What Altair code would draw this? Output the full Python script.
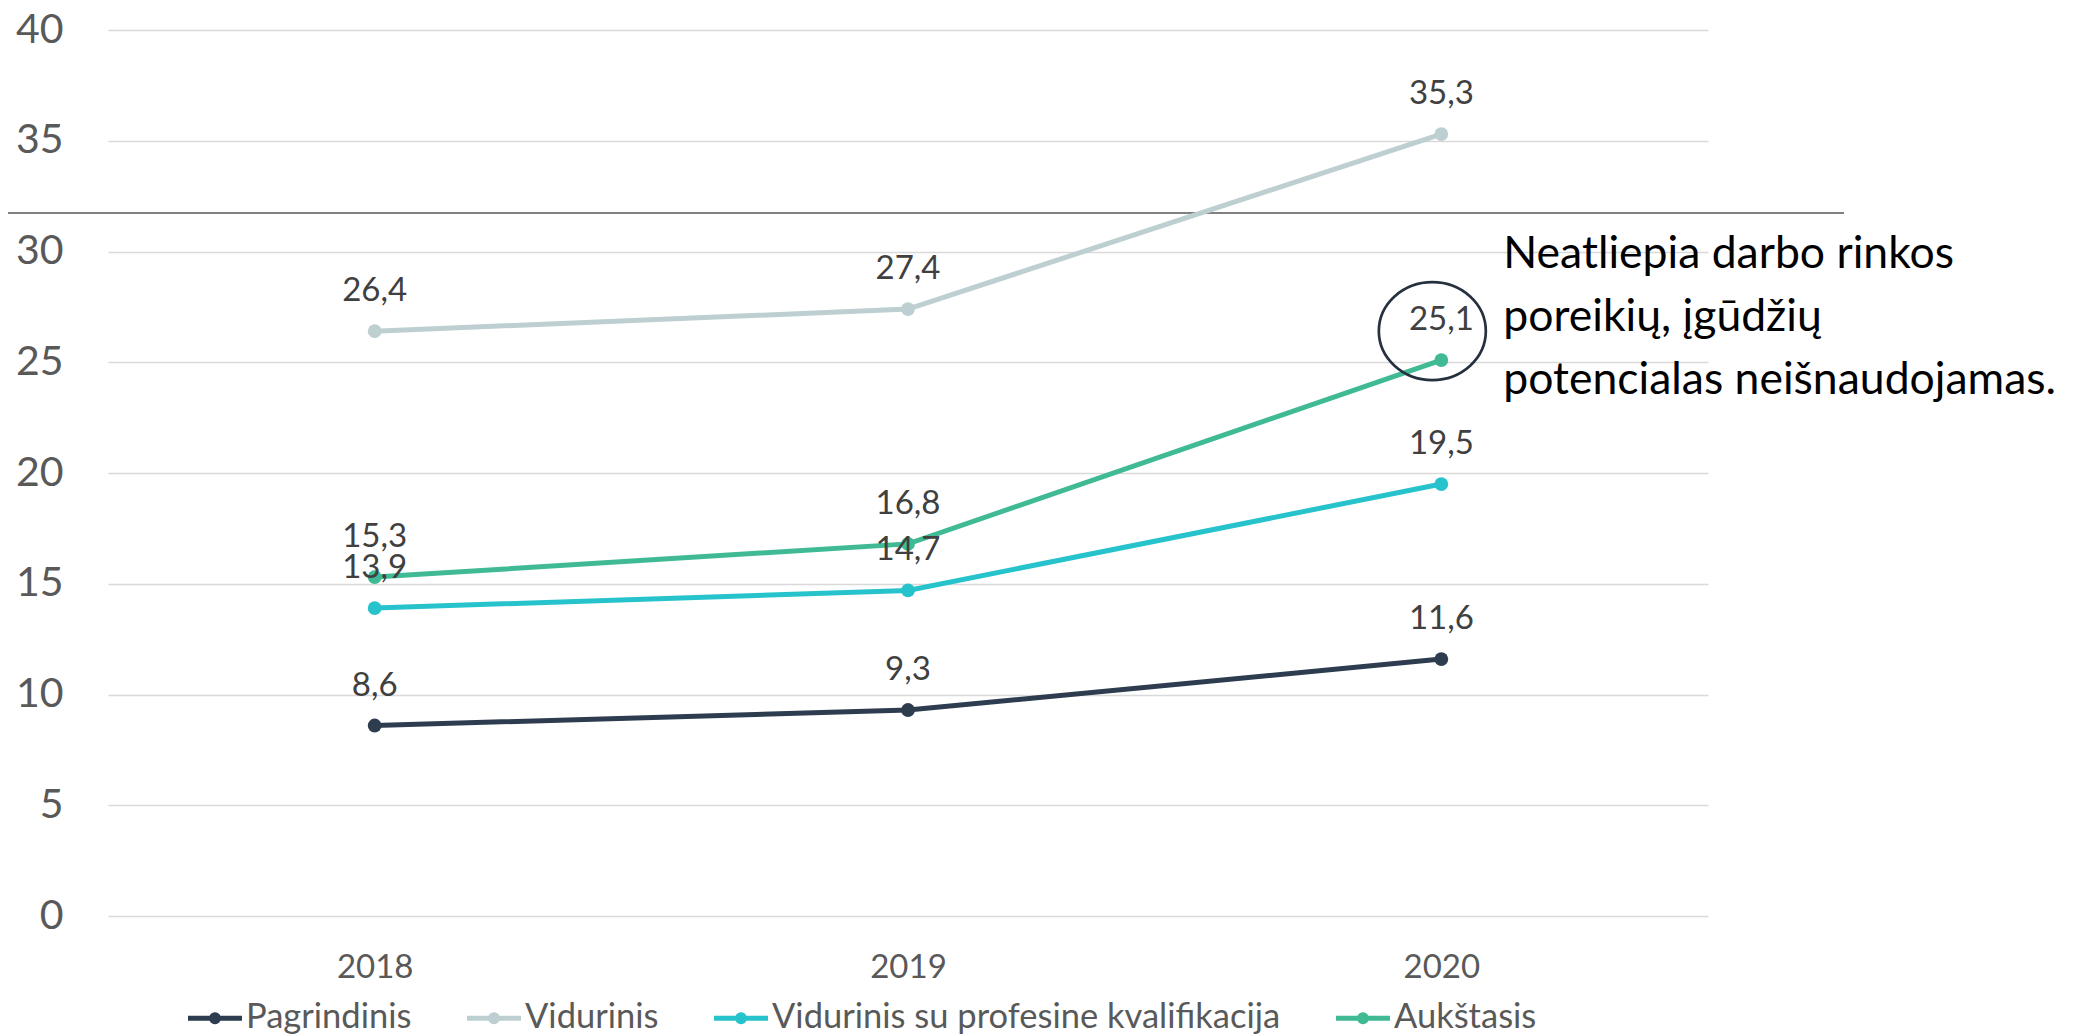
import altair as alt
import pandas as pd

# ---------------- data ----------------
years = ["2018", "2019", "2020"]
series_names = ["Pagrindinis", "Vidurinis", "Vidurinis su profesine kvalifikacija", "Aukštasis"]
pagrindinis = [8.6, 9.3, 11.6]
vidurinis = [26.4, 27.4, 35.3]
vidurinis_prof = [13.9, 14.7, 19.5]
aukstasis = [15.3, 16.8, 25.1]
series_colors = ["#2E3C4F", "#BDCFD0", "#27C3CC", "#3FBA94"]
y_ticks = [0, 5, 10, 15, 20, 25, 30, 35, 40]
annotation_lines = ["Neatliepia darbo rinkos", "poreikių, įgūdžių", "potencialas neišnaudojamas."]

rows = []
for i, (name, vals) in enumerate(zip(series_names, [pagrindinis, vidurinis, vidurinis_prof, aukstasis])):
    for yr, v in zip(years, vals):
        rows.append({"year": yr, "series": name, "order": i, "value": v,
                     "label": f"{v:.1f}".replace(".", ",")})
df = pd.DataFrame(rows)

anno_df = pd.DataFrame({"year": [years[-1]], "value": [aukstasis[-1]]})
sep_df = pd.DataFrame({"k": [0]})

FONT = "Lato"

x_enc = alt.X("year:N", sort=years,
              scale=alt.Scale(type="point", padding=0.5),
              axis=alt.Axis(title=None, labelAngle=0, ticks=False, domain=False, grid=False,
                            labelFontSize=33, labelColor="#595959", labelFont=FONT,
                            labelPadding=51, labelBaseline="middle"))
y_enc = alt.Y("value:Q",
              scale=alt.Scale(domain=[0, 40], nice=False, zero=True),
              axis=alt.Axis(title=None, values=y_ticks, ticks=False, domain=False, grid=True,
                            gridColor="#D9D9D9", gridWidth=1.5,
                            labelFontSize=41, labelColor="#595959", labelFont=FONT,
                            labelPadding=45))

color_scale = alt.Scale(domain=series_names, range=series_colors)

legend_symbol = ("M-1,-0.09 L-0.2,-0.09 A0.22,0.22 0 0,1 0.2,-0.09 L1,-0.09 L1,0.09 "
                 "L0.2,0.09 A0.22,0.22 0 0,1 -0.2,0.09 L-1,0.09 Z")

legend = alt.Legend(title=None, orient="none", legendX=80, legendY=961, direction="horizontal",
                    symbolType=legend_symbol, symbolSize=2916, symbolStrokeWidth=0,
                    symbolOpacity=1, labelFontSize=34.5, labelFont=FONT, labelColor="#595959",
                    columnPadding=55, labelOffset=4, labelLimit=0, padding=0)

base = alt.Chart(df).encode(x=x_enc, y=y_enc)

lines = base.mark_line(strokeWidth=5).encode(
    color=alt.Color("series:N", scale=color_scale, legend=None),
    order=alt.Order("order:Q"),
)
points = base.mark_point(filled=True, size=190, opacity=1).encode(
    color=alt.Color("series:N", scale=color_scale, legend=legend),
)
labels = base.mark_text(dy=-40, baseline="middle", fontSize=33, font=FONT, color="#404040").encode(
    text="label:N"
)

separator = alt.Chart(sep_df).mark_rule(color="#808080", strokeWidth=2).encode(
    x=alt.value(-108), x2=alt.value(1736), y=alt.value(183)
)

ellipse_path = "M-1,0 A1,0.916 0 1,1 1,0 A1,0.916 0 1,1 -1,0 Z"
ellipse = alt.Chart(anno_df).mark_point(
    shape=ellipse_path, size=11449, filled=False, stroke="#263140", strokeWidth=2.7,
    opacity=1, xOffset=-9, yOffset=-29
).encode(x=alt.X("year:N", sort=years), y="value:Q")

annotation = alt.Chart(anno_df).mark_text(
    text=annotation_lines, align="left", baseline="middle", dx=62, dy=-105,
    fontSize=44.5, font=FONT, color="#000000", lineHeight=63
).encode(x=alt.X("year:N", sort=years), y="value:Q")

chart = alt.layer(separator, lines, points, labels, ellipse, annotation).resolve_legend(
    color="independent"
).properties(
    width=1600, height=886,
    autosize=alt.AutoSizeParams(type="none"),
    padding={"left": 100, "top": 22, "right": 357, "bottom": 120},
    background="#FFFFFF",
).configure_view(stroke=None)

chart.save("out.html", embed_options={"renderer": "svg", "actions": False})
